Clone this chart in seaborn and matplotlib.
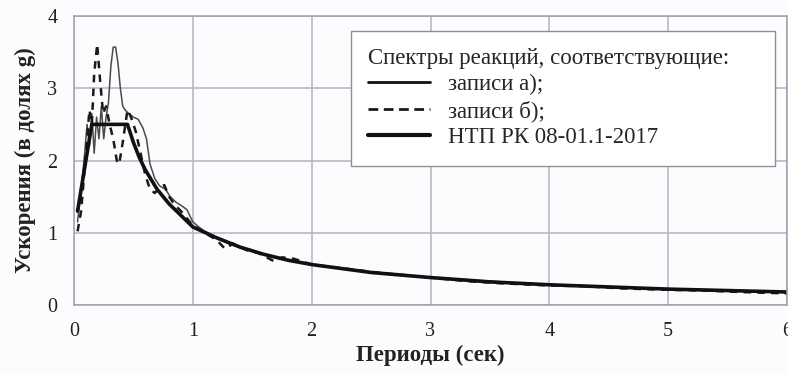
import matplotlib
matplotlib.use("Agg")
import matplotlib.pyplot as plt
import seaborn as sns
import pandas as pd

# Periods (s) and accelerations (g)
ntp_T = [0.03, 0.15, 0.45, 0.5, 0.55, 0.6, 0.7, 0.8, 0.9, 1.0, 1.2, 1.4, 1.6,
         1.8, 2.0, 2.5, 3.0, 3.5, 4.0, 4.5, 5.0, 5.5, 6.0]
ntp_A = [1.3, 2.5, 2.5, 2.25, 2.04, 1.87, 1.6, 1.4, 1.24, 1.08, 0.93, 0.8, 0.7,
         0.62, 0.56, 0.45, 0.38, 0.32, 0.28, 0.25, 0.22, 0.2, 0.18]

rec_a_T = [0.03, 0.06, 0.09, 0.11, 0.13, 0.15, 0.17, 0.19, 0.21, 0.23, 0.25, 0.27,
           0.29, 0.31, 0.33, 0.35, 0.37, 0.39, 0.41, 0.43, 0.46, 0.5, 0.54, 0.58,
           0.61, 0.64, 0.68, 0.72, 0.77, 0.81, 0.86, 0.9, 0.95, 1.0, 1.05, 1.1,
           1.2, 1.3, 1.4, 1.5, 1.6, 1.8, 2.0, 2.3, 2.6, 3.0, 3.5, 4.0, 4.5, 5.0,
           5.5, 6.0]
rec_a_A = [1.15, 1.6, 2.1, 2.5, 2.2, 2.65, 2.1, 2.6, 2.3, 2.75, 2.3, 2.6,
           2.8, 3.3, 3.57, 3.57, 3.35, 3.0, 2.75, 2.7, 2.65, 2.6, 2.57, 2.45,
           2.3, 1.95, 1.75, 1.65, 1.6, 1.5, 1.42, 1.38, 1.32, 1.15, 1.08, 1.02,
           0.93, 0.85, 0.79, 0.74, 0.7, 0.63, 0.56, 0.5, 0.44, 0.38, 0.33, 0.28,
           0.25, 0.22, 0.2, 0.18]

rec_b_T = [0.03, 0.06, 0.09, 0.11, 0.13, 0.15, 0.17, 0.195, 0.22, 0.245, 0.27,
           0.3, 0.33, 0.36, 0.38, 0.41, 0.45, 0.48, 0.52, 0.56, 0.6, 0.64, 0.68,
           0.72, 0.76, 0.8, 0.85, 0.9, 1.0, 1.1, 1.2, 1.27, 1.34, 1.45, 1.55,
           1.69, 1.75, 1.85, 2.0, 2.3, 2.6, 3.0, 3.3, 3.6, 4.0, 4.3, 4.6, 5.0,
           5.3, 5.6, 6.0]
rec_b_A = [1.02, 1.3, 1.9, 2.3, 2.7, 2.5, 3.2, 3.61, 3.1, 2.65, 2.75,
           2.5, 2.3, 2.0, 1.95, 2.25, 2.7, 2.6, 2.4, 2.1, 1.8, 1.6, 1.55,
           1.62, 1.66, 1.5, 1.38, 1.3, 1.1, 1.0, 0.9, 0.78, 0.85, 0.76, 0.72,
           0.6, 0.66, 0.64, 0.56, 0.5, 0.44, 0.38, 0.33, 0.3, 0.27, 0.26, 0.23,
           0.21, 0.2, 0.18, 0.16]

legend_title = "Спектры реакций, соответствующие:"
labels = ["записи а);", "записи б);", "НТП РК 08-01.1-2017"]

sns.set_style("whitegrid")
plt.rcParams['font.family'] = ['Liberation Serif', 'DejaVu Serif']

fig = plt.figure(figsize=(7.88, 3.74), dpi=100)
fig.patch.set_facecolor('#fcfcfe')
ax = fig.add_axes([74 / 788, 69 / 374, 713 / 788, 289 / 374])
ax.set_facecolor('#fcfcfe')

df_a = pd.DataFrame({'T': rec_a_T, 'A': rec_a_A})
df_b = pd.DataFrame({'T': rec_b_T, 'A': rec_b_A})
df_n = pd.DataFrame({'T': ntp_T, 'A': ntp_A})

sns.lineplot(data=df_a, x='T', y='A', ax=ax, color='#4a4a4a', linewidth=1.1,
             estimator=None, label=labels[0])
sns.lineplot(data=df_b, x='T', y='A', ax=ax, color='#1a1a1a', linewidth=1.8,
             linestyle=(0, (3, 2.5)), estimator=None, label=labels[1])
sns.lineplot(data=df_n, x='T', y='A', ax=ax, color='#111111', linewidth=2.6,
             estimator=None, label=labels[2])

ax.set_xlim(0, 6)
ax.set_ylim(0, 4)
ax.set_xticks(range(0, 7))
ax.set_yticks(range(0, 5))
ax.grid(True, color='#b4b4c2', linewidth=1.1)
for s in ax.spines.values():
    s.set_color('#a0a0ac')
    s.set_linewidth(1.1)
ax.tick_params(axis='both', labelsize=14.5, colors='#222222', length=0, pad=12)

ax.set_xlabel("Периоды (сек)", fontsize=16.5, fontweight='bold', color='#222222',
              labelpad=3)
ax.set_ylabel("Ускорения (в долях g)", fontsize=16.5, fontweight='bold',
              color='#222222', labelpad=8)

leg = ax.legend(title=legend_title, loc='upper left',
                bbox_to_anchor=(351 / 788, 1 - 166 / 374, 424 / 788, 135 / 374),
                bbox_transform=fig.transFigure, mode='expand',
                fontsize=16.5, title_fontsize=16.5,
                frameon=True, fancybox=False, shadow=False, alignment='left',
                handlelength=2.7, handletextpad=0.8, labelspacing=0.22,
                borderpad=0.75, borderaxespad=0)
leg.get_frame().set_edgecolor('#909090')
leg.get_frame().set_linewidth(1.0)
leg.get_frame().set_facecolor('white')
leg.get_frame().set_alpha(1.0)
lines = leg.get_lines()
lines[0].set_linewidth(2.0)
lines[0].set_color('#111111')
lines[1].set_linewidth(2.0)
lines[1].set_linestyle((0, (3.5, 2)))
lines[2].set_linewidth(3.0)

fig.savefig('out.png', dpi=100, facecolor=fig.get_facecolor())
